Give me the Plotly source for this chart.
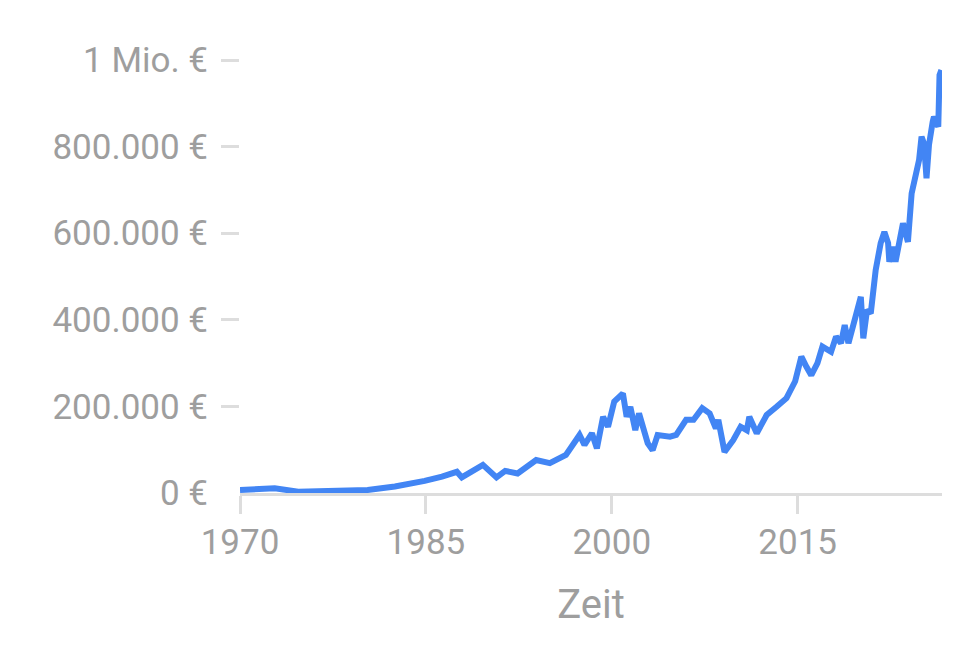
import plotly.graph_objects as go

# Depotwert ueber die Zeit
jahre = [1970.0, 1972.8, 1974.7, 1977.7, 1980.3, 1982.5, 1983.9, 1984.9, 1986.3, 1987.5,
         1987.9, 1989.6, 1990.7, 1991.4, 1992.4, 1993.6, 1993.9, 1995.0, 1996.3, 1997.4,
         1997.8, 1998.4, 1998.8, 1999.3, 1999.7, 2000.2, 2000.9, 2001.2, 2001.5, 2001.9,
         2002.2, 2002.9, 2003.3, 2003.7, 2004.7, 2005.2, 2006.0, 2006.6, 2007.3, 2007.9,
         2008.4, 2008.6, 2009.1, 2009.8, 2010.4, 2010.9, 2011.1, 2011.7, 2012.5, 2013.3,
         2014.1, 2014.8, 2015.3, 2015.7, 2016.1, 2016.6, 2017.0, 2017.7, 2018.1, 2018.5,
         2018.8, 2019.1, 2019.5, 2019.9, 2020.1, 2020.3, 2020.6, 2020.9, 2021.1, 2021.3,
         2021.7, 2022.0, 2022.3, 2022.4, 2022.7, 2022.9, 2023.5, 2023.9, 2024.2, 2024.4,
         2024.8, 2025.0, 2025.2, 2025.4, 2025.6, 2025.9, 2026.0, 2026.35, 2026.45, 2026.6]
werte = [7000, 11000, 3000, 6000, 7000, 15000, 22000, 28000, 38000, 49000,
         36000, 65000, 36000, 51000, 45000, 69000, 76000, 69000, 88000, 134000,
         111000, 138000, 103000, 176000, 153000, 211000, 230000, 176000, 199000, 145000,
         184000, 115000, 99000, 134000, 130000, 134000, 169000, 169000, 196000, 184000,
         149000, 169000, 95000, 122000, 153000, 145000, 176000, 138000, 180000, 199000,
         219000, 258000, 315000, 292000, 272000, 300000, 338000, 326000, 361000, 346000,
         388000, 346000, 392000, 438000, 453000, 357000, 423000, 415000, 461000, 515000,
         577000, 603000, 577000, 534000, 569000, 534000, 623000, 580000, 692000, 723000,
         769000, 823000, 807000, 727000, 804000, 858000, 869000, 846000, 965000, 977000]

y_ticks = [0, 200000, 400000, 600000, 800000, 1000000]
y_labels = ["0 €", "200.000 €", "400.000 €", "600.000 €", "800.000 €", "1 Mio. €"]
x_ticks = [1970, 1985, 2000, 2015]

grau = "#9e9e9e"
hell = "#dddddd"

fig = go.Figure()
fig.add_trace(go.Scatter(x=jahre, y=werte, mode="lines",
                         line=dict(color="#4285F4", width=6), showlegend=False))
# zweite Achse nur fuer die Striche (ohne 0)
fig.add_trace(go.Scatter(x=[jahre[0]], y=[werte[0]], yaxis="y2", mode="lines",
                         line=dict(width=0), showlegend=False, hoverinfo="skip"))

fig.update_layout(
    width=972, height=662,
    margin=dict(l=232, r=38, t=52, b=177),
    paper_bgcolor="white", plot_bgcolor="white",
    font=dict(family="Roboto", color=grau, size=35),
    xaxis=dict(range=[1970, 2026.65], tickvals=x_ticks, showgrid=False, zeroline=False,
               showline=True, linecolor=hell, linewidth=3,
               ticks="outside", ticklen=18, tickwidth=3, tickcolor=hell,
               tickfont=dict(size=35, color=grau), ticklabelstandoff=-2,
               title=dict(text="Zeit", font=dict(size=40, color=grau), standoff=28)),
    yaxis=dict(range=[0, 1000000], tickvals=y_ticks, ticktext=y_labels,
               showgrid=False, zeroline=False, showline=False, ticks="",
               tickfont=dict(size=35, color=grau), ticklabelstandoff=31),
    yaxis2=dict(range=[0, 1000000], overlaying="y", side="left",
                tickvals=y_ticks[1:], showticklabels=False, showgrid=False,
                zeroline=False, showline=False,
                ticks="outside", ticklen=18, tickwidth=3, tickcolor=hell),
)

fig.write_html("out.html")
